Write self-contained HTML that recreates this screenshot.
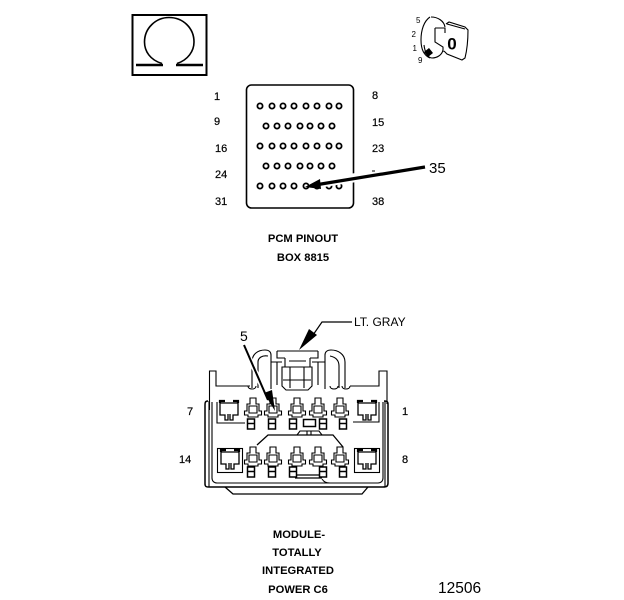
<!DOCTYPE html>
<html><head><meta charset="utf-8"><style>
html,body{margin:0;padding:0;background:#fff;width:624px;height:600px;overflow:hidden}
svg{display:block}
text{font-family:"Liberation Sans",sans-serif;fill:#000}
.n{font-size:11px;stroke:#000;stroke-width:.2}
.b{font-size:11.2px;font-weight:bold;text-anchor:middle}
</style></head><body>
<svg width="624" height="600" viewBox="0 0 624 600" xmlns="http://www.w3.org/2000/svg">
<defs>
<circle id="p" r="2.6" fill="#fff" stroke="#000" stroke-width="1.8"/>
<g id="t" fill="none" stroke="#000" stroke-width="1.1">
<path d="M-3,0V6H-6V13H-8.500V17H-5V19H5V17H8.500V13H6V6H3V0Z"/>
<path d="M-4,8H4V15H-4Z"/>
</g>
<g id="s" fill="#fff" stroke="#000" stroke-width="1.500"><rect x="-3.500" y="0" width="7" height="10"/><path d="M-3.500,4.500H3.500"/></g>
<g id="c" fill="none" stroke="#000" stroke-width="1.300">
<path d="M-9,-8H9V4H4V9H1V3M-9,-8V4H-4V9H-1V3"/>
<path d="M-9,-8V-10H-4M9,-8V-10H4" stroke-width="2.200"/>
</g>
</defs>

<!-- Omega symbol -->
<rect x="132.500" y="15" width="74" height="60" fill="none" stroke="#000" stroke-width="2"/>
<path d="M162,63.500C150,60 144.500,51 144.500,42C144.500,28 156,17.500 169,17.500C183,17.500 194,28 194,42C194,51 188,60 177,63.500" fill="none" stroke="#000" stroke-width="1.600"/>
<path d="M136,65H163M176,65H203" stroke="#000" stroke-width="2.600"/>

<!-- Key -->
<g fill="none" stroke="#000" stroke-width="1.100">
<path d="M430,17C424,21 421,30 421,40C421,48 423,55 430,58"/>
<path d="M431,17C438,17 444,21 445,27M424,45C425,53 428,58 432,58C437,58 442,55 443,50"/>
<path d="M435,28H445V33M435,28V42L443,47V52"/>
<path d="M446,24L449,22L465,27L468,30C468,40 467,50 465,58L462,60L447,54L444,51"/>
<path d="M447,24L465,29"/>
</g>
<path d="M429,48L433,53L428,57L424,52Z" fill="#000"/>
<text x="452" y="49.500" style="font-size:17px;font-weight:bold" text-anchor="middle">0</text>
<g style="font-size:8px">
<text x="416" y="23">5</text><text x="411.500" y="37">2</text><text x="412.500" y="51">1</text><text x="418" y="63">9</text>
</g>

<!-- Pinout -->
<rect x="246.500" y="85" width="107" height="123" rx="5" fill="none" stroke="#000" stroke-width="1.600"/>
<use href="#p" x="260" y="106"/><use href="#p" x="272" y="106"/><use href="#p" x="283" y="106"/><use href="#p" x="294" y="106"/><use href="#p" x="306" y="106"/><use href="#p" x="317" y="106"/><use href="#p" x="329" y="106"/><use href="#p" x="339" y="106"/>
<use href="#p" x="266" y="126"/><use href="#p" x="277" y="126"/><use href="#p" x="288" y="126"/><use href="#p" x="300" y="126"/><use href="#p" x="310" y="126"/><use href="#p" x="321" y="126"/><use href="#p" x="332" y="126"/>
<use href="#p" x="260" y="146"/><use href="#p" x="272" y="146"/><use href="#p" x="283" y="146"/><use href="#p" x="294" y="146"/><use href="#p" x="306" y="146"/><use href="#p" x="317" y="146"/><use href="#p" x="329" y="146"/><use href="#p" x="339" y="146"/>
<use href="#p" x="266" y="166"/><use href="#p" x="277" y="166"/><use href="#p" x="288" y="166"/><use href="#p" x="300" y="166"/><use href="#p" x="310" y="166"/><use href="#p" x="321" y="166"/><use href="#p" x="332" y="166"/>
<use href="#p" x="260" y="186"/><use href="#p" x="272" y="186"/><use href="#p" x="283" y="186"/><use href="#p" x="294" y="186"/><use href="#p" x="306" y="186"/><use href="#p" x="317" y="186"/><use href="#p" x="329" y="186"/><use href="#p" x="339" y="186"/>
<path d="M320,183L425,167" stroke="#fff" stroke-width="9"/>
<path d="M315,185L425,167" stroke="#000" stroke-width="3.200"/>
<path d="M305,187L320,179L321,189Z" fill="#000"/>
<text class="n" x="214" y="100">1</text><text class="n" x="214" y="125">9</text><text class="n" x="215" y="152">16</text><text class="n" x="215" y="178">24</text><text class="n" x="215" y="205">31</text>
<text class="n" x="372" y="99">8</text><text class="n" x="372" y="126">15</text><text class="n" x="372" y="152">23</text><text class="n" x="372" y="205">38</text>
<path d="M372,171H375" stroke="#000"/>
<text x="429" y="173" style="font-size:15px">35</text>
<text class="b" x="303" y="242">PCM PINOUT</text>
<text class="b" x="303" y="261">BOX 8815</text>

<!-- LT GRAY callout -->
<path d="M352,322H322L313,335" fill="none" stroke="#000" stroke-width="1.200"/>
<path d="M299,350L309,329L317,335Z" fill="#000"/>
<text x="354" y="326" style="font-size:12px">LT. GRAY</text>

<!-- Connector top -->
<g fill="none" stroke="#000" stroke-width="1.100">
<path d="M209.500,410V371H216V386H250M387,404V371H379V386H350"/>
<path d="M277,351H318M277,351V358H285M318,351V358H310"/>
<path d="M285,358V367H310V358M289,361H306"/>
<path d="M282,367H312V386L308,390H286L282,386Z"/>
<path d="M290,367V388M304,367V388"/>
<path d="M283,380H311"/>
<path d="M252,388V362C252,354 258,350 265,350C269,350 271,352 271,355V389"/>
<path d="M258,388V362C258,358 262,355 268,356"/>
<path d="M345,388V362C345,354 338,350 331,350C327,350 325,352 325,355V389"/>
<path d="M339,388V366C339,360 335,357 330,356"/>
<path d="M271,362H282M325,362H312M277,362V385M318,362V385"/>
<path d="M248,386C248,390 256,390 256,386M330,386C330,390 338,390 338,386M342,386C342,390 350,390 350,386"/>
</g>

<!-- Connector body -->
<g fill="none" stroke="#000" stroke-width="1.100">
<path d="M208,401C205,401 205,403 205,405V484C205,487 207,487 209,487H383C387,487 388,486 388,483V404C388,401 386,401 384,401" stroke-width="1.500"/>
<path d="M209,401V487M385,401V487"/>
<path d="M212,402V478C212,481 214,483 217,483H378C381,483 383,481 383,478V402"/>
<path d="M225,487L233,494H362L368,487" stroke-width="1.300"/>
<rect x="217.500" y="448.500" width="25" height="24"/>
<rect x="354.500" y="448.500" width="25" height="24"/>
<path d="M217,402V423H245M379,402V422H353"/>
<path d="M257,445L268,435H333L343,447" stroke-width="1.300"/>
<path d="M297,435L300,431H319L322,435M307,431V435M311,431V435"/>
<rect x="303.500" y="419.500" width="12" height="7" stroke-width="1.500"/>
<path d="M295,475H322M295,478H322" stroke-width="1.300"/>
<path d="M322,479C324,482 326,483 330,483"/>
</g>
<use href="#c" x="229" y="411"/><use href="#c" x="367" y="411"/>
<use href="#c" x="230" y="460"/><use href="#c" x="367" y="460"/>
<use href="#t" x="253" y="398"/><use href="#t" x="273" y="398"/><use href="#t" x="297" y="398"/><use href="#t" x="318" y="398"/><use href="#t" x="340" y="398"/>
<use href="#t" x="253" y="447"/><use href="#t" x="273" y="447"/><use href="#t" x="297" y="447"/><use href="#t" x="318" y="447"/><use href="#t" x="340" y="447"/>
<use href="#s" x="251" y="419"/><use href="#s" x="272" y="419"/><use href="#s" x="293" y="419"/><use href="#s" x="323" y="419"/><use href="#s" x="343" y="419"/>
<use href="#s" x="251" y="467"/><use href="#s" x="272" y="467"/><use href="#s" x="293" y="467"/><use href="#s" x="323" y="467"/><use href="#s" x="343" y="467"/>

<!-- 5 callout -->
<path d="M244,345L266,396" stroke="#fff" stroke-width="5"/>
<path d="M244,345L268,400" stroke="#000" stroke-width="2"/>
<path d="M264,393L272,390L275,411Z" fill="#000"/>
<text x="240" y="341" style="font-size:14px">5</text>

<text class="n" x="187" y="415">7</text><text class="n" x="179" y="463">14</text>
<text class="n" x="402" y="415">1</text><text class="n" x="402" y="463">8</text>

<text class="b" x="299" y="538">MODULE-</text>
<text class="b" x="297" y="556">TOTALLY</text>
<text class="b" x="298" y="574">INTEGRATED</text>
<text class="b" x="298" y="593">POWER C6</text>
<text x="438" y="593" style="font-size:15.500px">12506</text>
</svg>
</body></html>
